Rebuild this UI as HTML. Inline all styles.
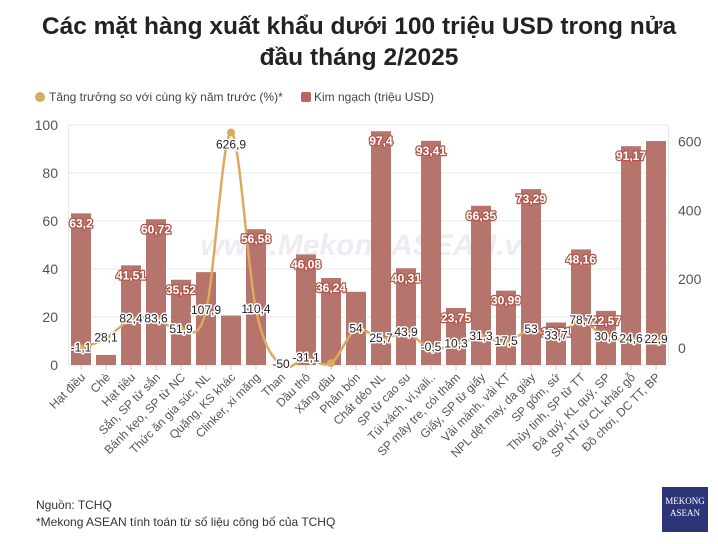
<!DOCTYPE html>
<html><head><meta charset="utf-8">
<style>
body{margin:0;background:#fff;width:718px;height:544px;overflow:hidden;font-family:"Liberation Sans",sans-serif}
#title{position:absolute;left:0;top:11px;width:718px;text-align:center;font-weight:bold;font-size:24.5px;line-height:31px;color:#222}
.note{position:absolute;left:36px;font-size:12px;color:#333}
#logo{position:absolute;left:662px;top:487px;width:46px;height:45px;background:#2b3577;color:#fff;font-family:"Liberation Serif",serif;font-size:9px;text-align:center;line-height:12px;padding-top:8px;box-sizing:border-box}
</style></head><body>
<div id="title">Các mặt hàng xuất khẩu dưới 100 triệu USD trong nửa<br>đầu tháng 2/2025</div>
<svg id="chart" width="718" height="544" style="position:absolute;left:0;top:0"></svg>
<div class="note" style="top:498px">Nguồn: TCHQ</div>
<div class="note" style="top:515px">*Mekong ASEAN tính toán từ số liệu công bố của TCHQ</div>
<div id="logo">MEKONG<br>ASEAN</div>
<script>
const categories=["Hạt điều","Chè","Hạt tiêu","Sắn, SP từ sắn","Bánh kẹo, SP từ NC","Thức ăn gia súc, NL","Quặng, KS khác","Clinker, xi măng","Than","Dầu thô","Xăng dầu","Phân bón","Chất dẻo NL","SP từ cao su","Túi xách, ví,vali..","SP mây tre, cói thảm","Giấy, SP từ giấy","Vải mành, vải KT","NPL dệt may, da giày","SP gốm, sứ","Thủy tinh, SP từ TT","Đá quý, KL quý, SP","SP NT từ CL khác gỗ","Đồ chơi, DC TT, BP"];
const turnover=[63.2,4.2,41.51,60.72,35.52,38.7,20.6,56.58,0,46.08,36.24,30.5,97.4,40.31,93.41,23.75,66.35,30.99,73.29,17.71,48.16,22.57,91.17,93.3];
const turnoverLabeled=[1,0,1,1,1,0,0,1,0,1,1,0,1,1,1,1,1,1,1,1,1,1,1,0];
const growth=[-1.1,28.1,82.4,83.6,51.9,107.9,626.9,110.4,-50,-31.1,-44,54,25.7,43.9,-0.5,10.3,31.3,17.5,53,33.7,78.7,30.6,24.6,22.9];
const growthLabeled=[1,1,1,1,1,1,1,1,1,1,0,1,1,1,1,1,1,1,1,1,1,1,1,1];
const leftTicks=[0,20,40,60,80,100];
const rightTicks=[0,200,400,600];
const fmt=v=>String(v).replace('.',',');
const svg=document.getElementById('chart');const NS='http://www.w3.org/2000/svg';
function el(t,a,txt){const e=document.createElementNS(NS,t);for(const k in a)e.setAttribute(k,a[k]);if(txt!==undefined)e.textContent=txt;svg.appendChild(e);return e;}
const PL=68.5,PR=668.5,PB=365,PT=125;
const band=(PR-PL)/categories.length;
const xc=i=>PL+band*(i+0.5);
const yL=v=>PB-(v/100)*(PB-PT);
const yR=v=>348-v*(348-141.7)/600;
let g=el('circle',{cx:40,cy:97,r:5,fill:'#dcaa5e'});
g=el('text',{x:49,y:101,'font-size':12,fill:'#444'},'Tăng trưởng so với cùng kỳ năm trước (%)*');
g=el('rect',{x:301,y:92,width:10,height:10,rx:2,fill:'#b5675c'});
g=el('text',{x:314,y:101,'font-size':12,fill:'#444'},'Kim ngạch (triệu USD)');
leftTicks.forEach(t=>{const y=yL(t);
 let l=el('line',{x1:PL,x2:PR,y1:y,y2:y,stroke:'#e8e8e8'});
 let tx=el('text',{x:58,y:y+5,'font-size':14,fill:'#555','text-anchor':'end'},t);});
rightTicks.forEach(t=>{let tx=el('text',{x:678,y:yR(t)+5,'font-size':14,fill:'#555'},t);});
el('line',{x1:PL,x2:PL,y1:PT,y2:PB,stroke:'#e8e8e8'});el('line',{x1:PR,x2:PR,y1:PT,y2:PB,stroke:'#e8e8e8'});
g=el('text',{x:370,y:255,'font-size':30,'font-style':'italic','font-weight':'bold',fill:'#ececf2','text-anchor':'middle'},'www.MekongASEAN.vn');
turnover.forEach((v,i)=>{const x=xc(i),y=yL(v);
 let r=el('rect',{x:x-10,y:y,width:20,height:PB-y,fill:'#b5756d'});
 el('line',{x1:x,x2:x,y1:PB,y2:PB+5,stroke:'#ccc'});
 let t=el('text',{transform:`translate(${x+5},${PB+13}) rotate(-45)`,'font-size':12,fill:'#555','text-anchor':'end'},categories[i]);});
const pts=growth.map((v,i)=>[xc(i),yR(v)]);
let d='M'+pts[0][0]+','+pts[0][1];
for(let i=0;i<pts.length-1;i++){const p0=pts[i-1]||pts[i],p1=pts[i],p2=pts[i+1],p3=pts[i+2]||p2;
 d+=` C${p1[0]+(p2[0]-p0[0])/6},${p1[1]+(p2[1]-p0[1])/6} ${p2[0]-(p3[0]-p1[0])/6},${p2[1]-(p3[1]-p1[1])/6} ${p2[0]},${p2[1]}`;}
g=el('path',{d:d,fill:'none',stroke:'#dcaa5e','stroke-width':2.5});
pts.forEach((p,i)=>{let c=el('circle',{cx:p[0],cy:p[1],r:4,fill:'#dcaa5e'});});
turnover.forEach((v,i)=>{if(!turnoverLabeled[i])return;
 let t=el('text',{x:xc(i),y:yL(v)+14,'font-size':12,'font-weight':'bold',fill:'#fff',stroke:'#b0574c','stroke-width':2.5,'paint-order':'stroke','stroke-linejoin':'round','text-anchor':'middle'},fmt(v));
 });
growth.forEach((v,i)=>{if(!growthLabeled[i])return;
 let t=el('text',{x:xc(i),y:yR(v)-1+(i==6?17:4),'font-size':12,fill:'#222',stroke:'#fff','stroke-width':3,'paint-order':'stroke','stroke-linejoin':'round','text-anchor':'middle'},fmt(v));
 });
</script>
</body></html>
